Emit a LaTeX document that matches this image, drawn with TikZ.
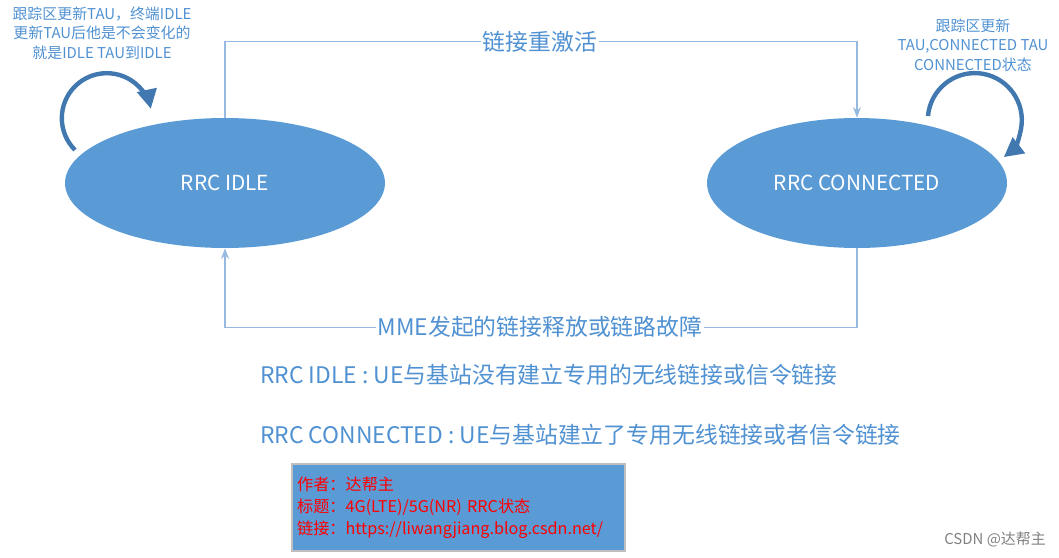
\documentclass[tikz,border=0pt]{standalone}
\usepackage{fontspec}
\setmainfont{Noto Sans CJK SC}
\usetikzlibrary{arrows.meta, shapes.geometric}
\definecolor{zblue}{RGB}{91,155,213}
\definecolor{ztext}{RGB}{80,145,210}
\definecolor{zdark}{RGB}{65,120,175}
\definecolor{zline}{RGB}{150,185,225}
\tikzset{
  state/.style={ellipse, fill=zblue, text=white, font=\fontsize{11.8}{12}\selectfont},
  link/.style={zline, thick, -{Stealth[length=6pt]}},
  linklabel/.style={fill=white, text=ztext, font=\fontsize{13}{14}\selectfont, inner sep=1pt},
  loop/.style={zdark, line width=2.5pt, -{Triangle[length=11pt,width=11pt]}},
  note/.style={text=ztext, align=center, font=\fontsize{8.5}{11}\selectfont},
  info/.style={text=ztext, anchor=west, font=\fontsize{13}{14}\selectfont}
}
\begin{document}
\begin{tikzpicture}[x=0.02cm, y=-0.02cm]
    \useasboundingbox (0,0) rectangle (1059,558);

    \node[state, minimum width=6.4cm, minimum height=2.6cm] (idle) at (225,183) {RRC IDLE};
    \node[state, minimum width=6cm, minimum height=2.6cm] (conn) at (857,183) {RRC CONNECTED};

    \draw[link] (idle.north) -- ++(0,-76) -| (conn.north);
    \node[linklabel] (up) at (540,42) {链接重激活};
    \draw[link] (conn.south) -- ++(0,79) -| (idle.south);
    \node[linklabel] (down) at (540,327) {MME发起的链接释放或链路故障};

    % self loops
    \draw[loop] (75,150) arc (-225:-12:45);
    \draw[loop] (928,116) arc (-175:52:47);

    \node[note] (idlenote) at (102,33) {跟踪区更新TAU，终端IDLE\\更新TAU后他是不会变化的\\就是IDLE TAU到IDLE};
    \node[note] (connnote) at (973,45) {跟踪区更新\\TAU,CONNECTED TAU\\CONNECTED状态};

    \node[info] (l1) at (254,375) {RRC IDLE : UE与基站没有建立专用的无线链接或信令链接};
    \node[info] (l2) at (254,435) {RRC CONNECTED : UE与基站建立了专用无线链接或者信令链接};

    \node[draw=gray!50, line width=1pt, fill=zblue, text=red, align=left, anchor=north west,
          text width=6.45cm, inner xsep=3pt, minimum height=1.74cm, font=\fontsize{9.2}{12.5}\selectfont] (author) at (291,463)
        {作者：达帮主\\标题：4G(LTE)/5G(NR) RRC状态\\链接：https://liwangjiang.blog.csdn.net/};

    \node[gray, font=\fontsize{8.5}{10}\selectfont] (mark) at (995,540) {CSDN @达帮主};
\end{tikzpicture}
\end{document}
